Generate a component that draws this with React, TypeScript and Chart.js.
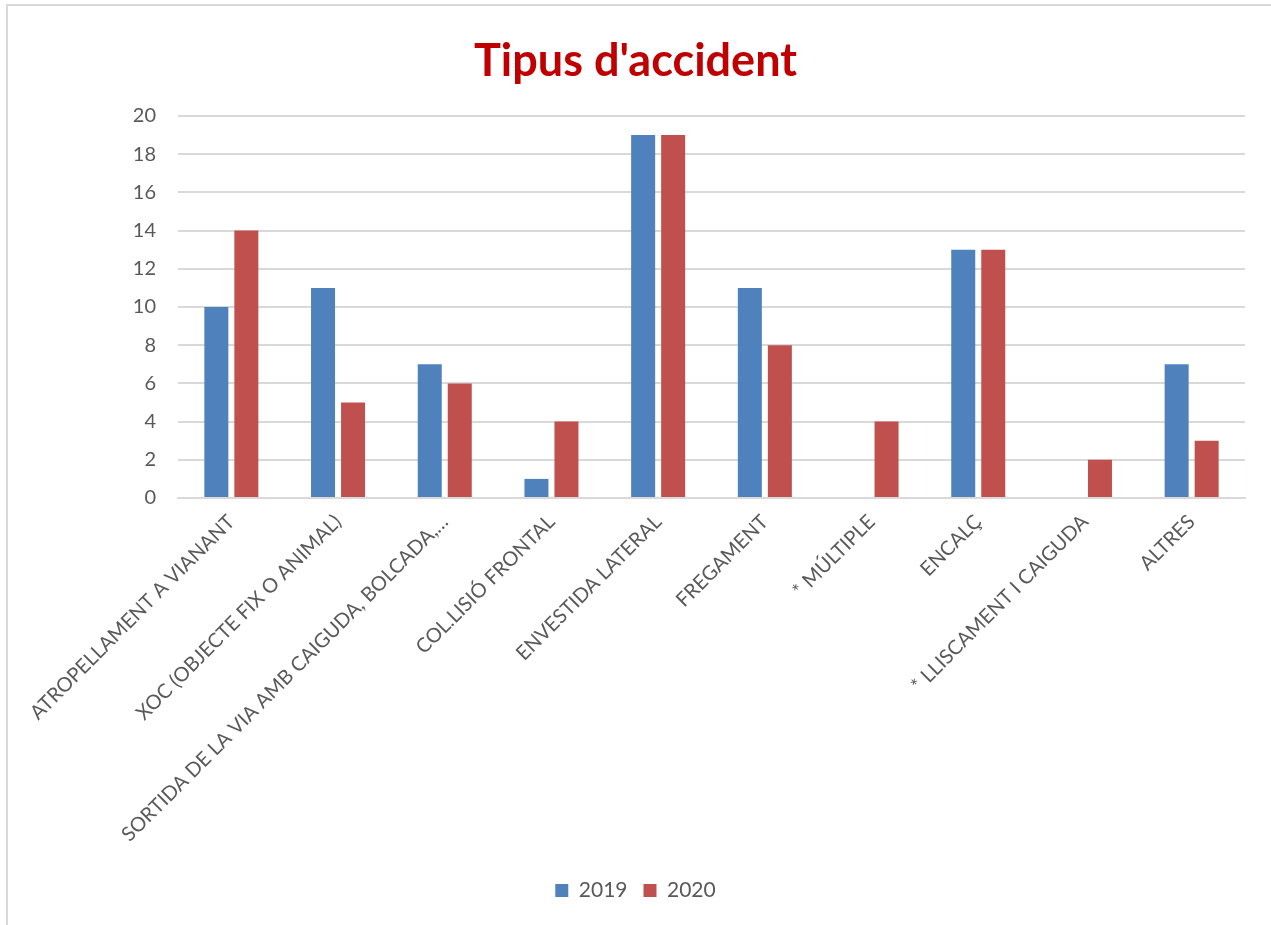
import React, { useEffect, useRef } from "react";
import { Chart, registerables } from "chart.js";

Chart.register(...registerables);

const categories = [
  "ATROPELLAMENT A VIANANT",
  "XOC (OBJECTE FIX O ANIMAL)",
  "SORTIDA DE LA VIA AMB CAIGUDA, BOLCADA,…",
  "COL.LISIÓ FRONTAL",
  "ENVESTIDA LATERAL",
  "FREGAMENT",
  "* MÚLTIPLE",
  "ENCALÇ",
  "* LLISCAMENT I CAIGUDA",
  "ALTRES",
];
const values2019 = [10, 11, 7, 1, 19, 11, 0, 13, 0, 7];
const values2020 = [14, 5, 6, 4, 19, 8, 4, 13, 2, 3];
const seriesNames = ["2019", "2020"];
const titleText = "Tipus d'accident";

const FONT = "Lato, 'Open Sans', sans-serif";

export default function App() {
  const ref = useRef<HTMLCanvasElement | null>(null);
  useEffect(() => {
    if (!ref.current) return;
    const chart = new Chart(ref.current, {
      type: "bar",
      data: {
        labels: categories,
        datasets: [
          {
            label: seriesNames[0],
            data: values2019,
            backgroundColor: "#4F81BD",
            categoryPercentage: 0.5625,
            barPercentage: 0.8,
          },
          {
            label: seriesNames[1],
            data: values2020,
            backgroundColor: "#C0504D",
            categoryPercentage: 0.5625,
            barPercentage: 0.8,
          },
        ],
      },
      options: {
        animation: false,
        responsive: false,
        maintainAspectRatio: false,
        layout: { padding: { left: 18, right: 26, top: 20, bottom: 14 } },
        plugins: {
          title: {
            display: true,
            text: titleText,
            color: "#C00000",
            font: { family: FONT, size: 45, weight: "bold" },
            padding: { top: 8, bottom: 28 },
          },
          legend: {
            position: "bottom",
            labels: {
              color: "#595959",
              font: { family: FONT, size: 21 },
              boxWidth: 13,
              boxHeight: 13,
              padding: 16,
            },
          },
          tooltip: { enabled: false },
        },
        scales: {
          x: {
            grid: { display: false, drawTicks: false },
            border: { display: true, color: "#d9d9d9", width: 2 },
            ticks: {
              color: "#595959",
              font: { family: FONT, size: 20 },
              maxRotation: 45,
              minRotation: 45,
              autoSkip: false,
              padding: 12,
            },
            afterFit: (scale: any) => {
              scale.height = 366;
            },
          },
          y: {
            min: 0,
            max: 20,
            grid: { color: "#d9d9d9", lineWidth: 2, drawTicks: false },
            border: { display: false },
            ticks: {
              stepSize: 2,
              color: "#595959",
              font: { family: FONT, size: 20 },
              padding: 22,
            },
            afterFit: (scale: any) => {
              scale.width = 152;
            },
          },
        },
      },
    });
    return () => chart.destroy();
  }, []);
  return (
    <div
      style={{
        position: "absolute",
        left: 6,
        top: 4,
        width: 1265,
        height: 921,
        borderTop: "2px solid #d9d9d9",
        borderLeft: "2px solid #d9d9d9",
        background: "#fff",
      }}
    >
      <canvas ref={ref} width={1263} height={919} style={{ display: "block" }} />
    </div>
  );
}
